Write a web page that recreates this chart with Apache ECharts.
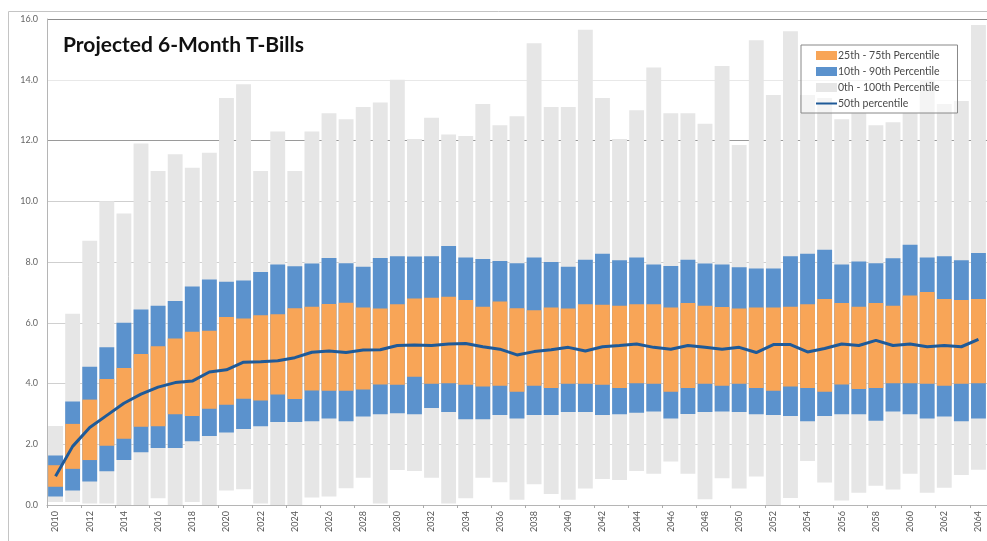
<!DOCTYPE html>
<html>
<head>
<meta charset="utf-8">
<script src="https://cdn.jsdelivr.net/npm/echarts@6/dist/echarts.min.js"></script>
<style>
  html, body { margin: 0; padding: 0; background: #fff; }
  #chart { width: 987px; height: 541px; }
</style>
</head>
<body>
<div id="chart"></div>
<script>
// years 2010 - 2064
const years = []
for (let y = 2010; y <= 2064; y++) years.push(String(y))

const p0 = [0.1, 0.1, 0.05, 0.05, 0.0, 0.0, 0.22, 0.0, 0.1, 0.0,
  0.48, 0.52, 0.05, 0.0, 0.0, 0.25, 0.28, 0.55, 0.9, 0.05,
  1.15, 1.12, 0.9, 0.05, 0.22, 0.9, 0.75, 0.17, 0.68, 0.36,
  0.17, 0.54, 0.86, 0.82, 1.12, 1.03, 1.43, 1.03, 0.19, 0.88,
  0.54, 0.94, 0.0, 0.23, 1.45, 0.74, 0.15, 0.4, 0.63, 0.51,
  1.03, 0.4, 0.57, 0.99, 1.16]

const p10 = [0.28, 0.48, 0.77, 1.11, 1.48, 1.74, 1.88, 1.88, 2.1, 2.27,
  2.39, 2.5, 2.59, 2.73, 2.73, 2.76, 2.85, 2.76, 2.91, 2.99,
  3.02, 2.99, 3.19, 3.06, 2.82, 2.82, 2.96, 2.85, 2.96, 2.96,
  3.06, 3.06, 2.96, 2.99, 3.04, 3.08, 2.85, 3.0, 3.06, 3.08,
  3.06, 2.99, 2.96, 2.93, 2.76, 2.93, 2.99, 2.99, 2.77, 3.08,
  2.99, 2.85, 2.91, 2.76, 2.85]

const p25 = [0.6, 1.19, 1.48, 1.95, 2.18, 2.58, 2.59, 2.99, 2.93, 3.17,
  3.3, 3.5, 3.44, 3.64, 3.49, 3.77, 3.76, 3.76, 3.8, 3.97,
  3.96, 4.22, 3.99, 4.01, 3.96, 3.9, 3.93, 3.73, 3.93, 3.85,
  3.99, 3.99, 3.96, 3.85, 4.01, 3.99, 3.73, 3.85, 3.99, 3.93,
  3.99, 3.85, 3.76, 3.9, 3.85, 3.73, 3.97, 3.82, 3.85, 4.01,
  4.01, 3.99, 3.93, 3.99, 4.01]

const p50 = [0.95, 1.93, 2.55, 2.95, 3.35, 3.65, 3.88, 4.03, 4.08, 4.38,
  4.45, 4.7, 4.72, 4.75, 4.85, 5.03, 5.07, 5.02, 5.1, 5.11,
  5.25, 5.27, 5.25, 5.3, 5.32, 5.21, 5.13, 4.94, 5.05, 5.11,
  5.19, 5.07, 5.21, 5.25, 5.3, 5.19, 5.13, 5.25, 5.19, 5.13,
  5.19, 5.02, 5.28, 5.28, 5.04, 5.15, 5.3, 5.25, 5.42, 5.25,
  5.3, 5.21, 5.25, 5.21, 5.45]

const p75 = [1.31, 2.67, 3.47, 4.15, 4.51, 4.97, 5.23, 5.48, 5.7, 5.74,
  6.19, 6.14, 6.25, 6.28, 6.48, 6.53, 6.62, 6.66, 6.5, 6.47,
  6.61, 6.8, 6.82, 6.86, 6.75, 6.53, 6.7, 6.48, 6.41, 6.5,
  6.47, 6.61, 6.59, 6.56, 6.61, 6.61, 6.5, 6.65, 6.56, 6.52,
  6.47, 6.5, 6.5, 6.53, 6.61, 6.78, 6.65, 6.53, 6.65, 6.56,
  6.9, 7.01, 6.78, 6.75, 6.78]

const p90 = [1.63, 3.41, 4.55, 5.19, 6.0, 6.44, 6.56, 6.72, 7.19, 7.42,
  7.35, 7.39, 7.67, 7.92, 7.86, 7.95, 8.13, 7.96, 7.84, 8.13,
  8.19, 8.18, 8.19, 8.53, 8.15, 8.1, 8.03, 7.96, 8.15, 8.0,
  7.84, 8.07, 8.27, 8.06, 8.15, 7.92, 7.87, 8.07, 7.95, 7.92,
  7.83, 7.79, 7.79, 8.19, 8.27, 8.4, 7.92, 8.02, 7.96, 8.12,
  8.57, 8.15, 8.19, 8.06, 8.3]

const p100 = [2.6, 6.3, 8.7, 10.0, 9.6, 11.9, 11.0, 11.55, 11.1, 11.6,
  13.4, 13.85, 11.0, 12.3, 11.0, 12.3, 12.9, 12.7, 13.1, 13.25,
  14.0, 12.05, 12.75, 12.2, 12.15, 13.2, 12.5, 12.8, 15.2, 13.1,
  13.1, 15.65, 13.4, 12.05, 13.0, 14.4, 12.9, 12.9, 12.55, 14.45,
  11.85, 15.3, 13.5, 15.6, 13.5, 13.4, 12.7, 12.9, 12.5, 12.6,
  12.9, 14.0, 13.2, 13.3, 15.8]

const diff = (hi, lo) => hi.map((v, i) => +(v - lo[i]).toFixed(2))

const NAME_IQR = '25th - 75th Percentile'
const NAME_P10 = '10th - 90th Percentile'
const NAME_ALL = '0th - 100th Percentile'
const NAME_MED = '50th percentile'

// floating bar = transparent base + visible span, each pair in its own stack
function floatBar (stack, name, lo, hi, color) {
  const common = { type: 'bar', stack: stack, barGap: '-100%', barCategoryGap: '13%' }
  return [
    { ...common, name: '_' + stack, data: lo, itemStyle: { color: 'transparent' }, silent: true },
    { ...common, name: name, data: diff(hi, lo), itemStyle: { color: color } }
  ]
}

const chart = echarts.init(document.getElementById('chart'))

const option = {
  animation: false,
  textStyle: { fontFamily: 'Lato, "Open Sans", sans-serif' },
  title: {
    text: 'Projected 6-Month T-Bills',
    left: 58,
    top: 30,
    textStyle: { fontSize: 21, fontWeight: 'bold', color: '#111', fontFamily: 'Lato' }
  },
  legend: {
    orient: 'vertical',
    left: 801,
    top: 45,
    padding: [5, 18, 4, 14],
    itemGap: 5,
    itemWidth: 21,
    itemHeight: 9,
    borderColor: '#888',
    borderWidth: 1,
    backgroundColor: 'rgba(255,255,255,0.55)',
    textStyle: { fontSize: 10.5, color: '#4a4a4a', padding: [0, 0, 0, -4] },
    data: [
      { name: NAME_IQR, icon: 'rect' },
      { name: NAME_P10, icon: 'rect' },
      { name: NAME_ALL, icon: 'rect' },
      { name: NAME_MED, itemStyle: { opacity: 0 } }
    ]
  },
  grid: { left: 47, right: 0, top: 19, bottom: 36 },
  graphic: [{
    type: 'rect',
    shape: { x: 8.5, y: 11.5, width: 990, height: 540 },
    style: { fill: 'none', stroke: '#c4c4c4', lineWidth: 1 },
    silent: true
  }],
  xAxis: {
    type: 'category',
    data: years,
    axisLine: { lineStyle: { color: '#b5b5b5' } },
    axisTick: { show: true, length: 3, lineStyle: { color: '#aaa' } },
    axisLabel: { interval: 1, rotate: 90, fontSize: 9, color: '#555', margin: 6 }
  },
  yAxis: {
    type: 'value',
    min: 0,
    max: 16,
    interval: 2,
    axisLine: { show: true, lineStyle: { color: '#b5b5b5' } },
    axisTick: { show: false },
    axisLabel: { fontSize: 9, color: '#666', margin: 9, formatter: v => v.toFixed(1) },
    splitLine: {
      lineStyle: {
        color: ['#ccc', '#d4d4d4', '#d0d0d0', '#d0d0d0', '#cfcfcf', '#cfcfcf', '#9a9a9a', '#e8e8e8', '#8c8c8c']
      }
    }
  },
  series: [
    ...floatBar('all', NAME_ALL, p0, p100, '#e6e6e6'),
    ...floatBar('p10', NAME_P10, p10, p90, '#5b92cd'),
    ...floatBar('iqr', NAME_IQR, p25, p75, '#f8a557'),
    {
      type: 'line',
      name: NAME_MED,
      data: p50,
      symbol: 'none',
      z: 5,
      lineStyle: { color: '#1f5a98', width: 3 },
      itemStyle: { color: '#1f5a98' }
    }
  ]
}

chart.setOption(option)
</script>
</body>
</html>
